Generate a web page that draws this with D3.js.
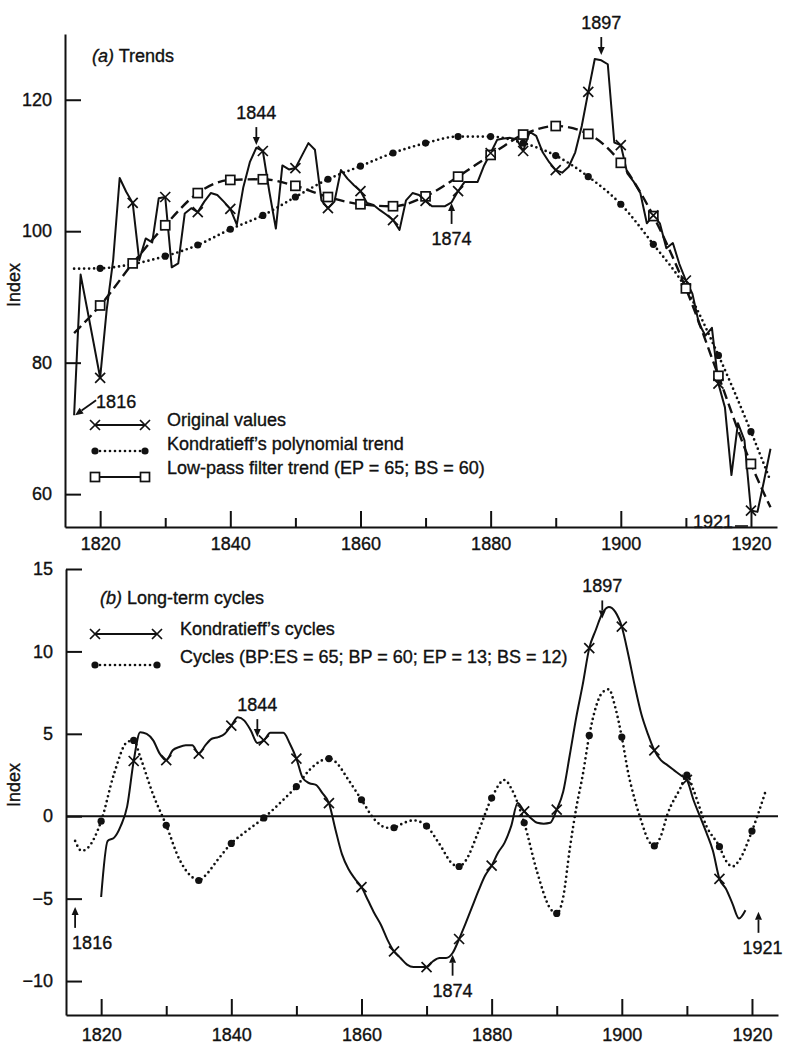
<!DOCTYPE html>
<meta charset="utf-8">
<style>
    body { margin: 0; background: #fff; }
    svg text { font-family: "Liberation Sans", Arial, sans-serif; font-size: 18px; fill: #111; stroke: #111; stroke-width: 0.35; }
    .axis path, .axis line { stroke: #111; stroke-width: 2; }
    .axis text { font-family: "Liberation Sans", Arial, sans-serif; font-size: 18px; fill: #111; stroke: #111; stroke-width: 0.35; }
</style>
<svg width="786" height="1046"></svg>
<script src="https://d3js.org/d3.v7.min.js"></script>
<script>

    // ---- data ----
    var majorYears = [1820, 1840, 1860, 1880, 1900, 1920];
    var minorYears = [1830, 1850, 1870, 1890, 1910];
    var topTicks = [60, 80, 100, 120];
    var botTicks = [-10, -5, 0, 5, 10, 15];

    // (a) original index values, one per year from 1816
    var origStart = 1816;
    var origValues = [
        72.0, 93.4, 88.2, 83.0, 77.7, 88.0, 95.6, 108.1, 106.0, 104.3,
        95.6, 98.9, 98.3, 105.0, 105.2, 94.5, 95.1, 102.7, 103.5, 102.9,
        104.5, 105.8, 105.5, 104.5, 103.4, 101.0, 106.7, 110.5, 112.7, 112.2,
        106.0, 100.4, 110.0, 109.4, 109.6, 111.5, 113.4, 112.4, 104.7, 103.5,
        104.5, 109.3, 108.0, 107.0, 106.1, 104.3, 104.0, 103.2, 102.5, 101.7,
        100.2, 104.7, 105.8, 105.5, 104.6, 103.8, 103.8, 103.8, 104.4, 106.1,
        107.5, 107.5, 107.5, 110.0, 111.9, 113.9, 114.1, 114.2, 114.0, 112.2,
        115.1, 114.5, 112.0, 110.5, 109.3, 108.9, 109.8, 112.0, 116.0, 121.2,
        126.2, 126.0, 125.4, 113.5, 113.1, 108.8, 107.5, 105.8, 101.2, 102.4,
        101.2, 97.4, 98.2, 95.0, 92.5, 90.5, 86.0, 84.1, 85.3, 76.8,
        73.2, 62.9, 70.8, 68.2, 57.5, 57.3, 62.0, 66.9
    ];

    // (a) Kondratieff's polynomial trend
    var polyYears = [1816, 1820, 1825, 1830, 1835, 1840, 1845, 1850, 1855, 1860, 1865, 1870,
        1875, 1880, 1885, 1890, 1895, 1900, 1905, 1910, 1915, 1920, 1923];
    var polyValues = [94.3, 94.35, 95.0, 96.2, 97.9, 100.3, 102.4, 105.2, 107.9, 109.9, 111.9, 113.4,
        114.4, 114.4, 113.4, 111.5, 108.3, 104.1, 98.0, 91.3, 81.1, 69.5, 62.0];

    // (a) low-pass filter trend
    var lowYears = [1816, 1820, 1825, 1830, 1835, 1840, 1845, 1850, 1855, 1860, 1865, 1870,
        1875, 1880, 1885, 1890, 1895, 1900, 1905, 1910, 1915, 1920, 1923];
    var lowValues = [84.5, 88.7, 95.1, 100.9, 105.8, 107.8, 107.9, 106.9, 105.2, 104.1, 103.8, 105.3,
        108.3, 111.6, 114.7, 116.0, 114.8, 110.4, 102.3, 91.3, 78.0, 64.6, 58.0];

    // (b) Kondratieff's cycles, one per year from 1820
    var kcStart = 1820;
    var kcValues = [
        -4.9, -1.5, -1.3, -0.6, 0.6, 3.35, 5.1, 5.0, 4.6, 3.8,
        3.4, 4.0, 4.2, 4.3, 4.3, 3.8, 4.3, 4.7, 4.8, 5.0,
        5.5, 6.0, 5.8, 5.2, 4.45, 4.6, 5.06, 5.06, 5.06, 4.4,
        3.5, 2.3, 2.0, 1.9, 1.4, 0.8, -0.8, -2.3, -3.2, -3.8,
        -4.3, -5.1, -5.9, -6.6, -7.5, -8.2, -8.6, -9.0, -9.15, -9.15,
        -9.15, -8.8, -8.6, -8.6, -8.3, -7.45, -6.5, -5.5, -4.5, -3.6,
        -3.0, -2.2, -1.6, -0.6, 0.8, 0.3, -0.1, -0.4, -0.45, -0.4,
        0.4, 1.5, 3.7, 6.0, 8.0, 10.2, 11.3, 12.3, 12.7, 12.4,
        11.5, 9.8, 7.9, 6.2, 5.0, 4.0, 3.4, 3.1, 2.8, 2.5,
        2.2, 1.0, 0.0, -1.0, -2.1, -3.8, -4.4, -5.3, -6.2, -5.7
    ];

    // (b) band-pass cycles
    var cyYears = [1816, 1817, 1818, 1820, 1822, 1824, 1825, 1826, 1828, 1830, 1832, 1834, 1835, 1836,
        1838, 1840, 1842, 1845, 1848, 1850, 1852, 1854, 1855, 1856, 1858, 1860, 1862, 1864, 1865,
        1866, 1868, 1870, 1872, 1874, 1875, 1876, 1878, 1880, 1882, 1883, 1885, 1887, 1889, 1890,
        1891, 1892, 1893, 1894, 1895, 1896, 1897, 1898, 1899, 1900, 1901, 1902, 1903, 1904, 1905,
        1906, 1907, 1909, 1910, 1911, 1913, 1915, 1916, 1917, 1918, 1920, 1922];
    var cyValues = [-1.5, -2.1, -1.9, -0.3, 2.6, 4.5, 4.6, 3.6, 1.3, -0.55, -2.6, -3.7, -3.9, -3.6,
        -2.6, -1.65, -1.0, -0.1, 1.0, 1.8, 2.8, 3.4, 3.5, 3.3, 2.2, 1.0, -0.2, -0.7, -0.7,
        -0.5, -0.25, -0.6, -1.7, -2.9, -3.05, -2.7, -0.9, 1.1, 2.2, 1.7, -0.4, -3.4, -5.6, -5.9,
        -4.9, -2.0, 0.5, 2.5, 4.9, 6.6, 7.5, 7.7, 6.6, 4.8, 2.6, 1.0, -0.3, -1.4, -1.8,
        -1.2, 0.1, 1.7, 2.5, 1.6, -0.6, -1.85, -2.7, -3.05, -2.7, -0.9, 1.4];

    var topLegend = ["Original values", "Kondratieff’s polynomial trend", "Low-pass filter trend (EP = 65; BS = 60)"];
    var botLegend = ["Kondratieff’s cycles", "Cycles (BP:ES = 65; BP = 60; EP = 13; BS = 12)"];

    var topNotes = [
        {label: "1844", year: 1844, value: 113.1, dir: "down"},
        {label: "1874", year: 1874, value: 104.3, dir: "up"},
        {label: "1897", year: 1897, value: 126.8, dir: "down"}
    ];
    var botNotes = [
        {label: "1844", year: 1844, value: 4.8, dir: "down"},
        {label: "1897", year: 1897, value: 12.0, dir: "down"},
        {label: "1874", year: 1874, value: -8.4, dir: "up"},
        {label: "1816", year: 1816, value: -5.5, dir: "up", start: -3},
        {label: "1921", year: 1921, value: -5.8, dir: "up", start: -16}
    ];

    // ---- helpers ----
    function zip(xs, ys) { return xs.map(function (x, i) { return {year: x, value: ys[i]}; }); }
    function series(start, vals) { return vals.map(function (v, i) { return {year: start + i, value: v}; }); }
    function every5(d) { return d.year % 5 === 0 && d.year >= 1820 && d.year <= 1920; }

    var orig = series(origStart, origValues);
    var poly = zip(polyYears, polyValues);
    var low = zip(lowYears, lowValues);
    var kc = series(kcStart, kcValues);
    var cy = zip(cyYears, cyValues);

    var svg = d3.select("svg");

    var xTop = d3.scaleLinear().domain([1814.6, 1924]).range([65, 777]);
    var yTop = d3.scaleLinear().domain([55, 130]).range([527, 34]);
    var xBot = d3.scaleLinear().domain([1814.6, 1924]).range([66, 778]);
    var yBot = d3.scaleLinear().domain([-12.06, 15]).range([1015, 569]);

    function xMark(g, x, y) {
        g.append("path")
            .attr("d", "M" + (x - 5) + "," + (y - 5) + "L" + (x + 5) + "," + (y + 5) +
                "M" + (x - 5) + "," + (y + 5) + "L" + (x + 5) + "," + (y - 5))
            .attr("stroke", "#111").attr("stroke-width", 1.7).attr("fill", "none");
    }
    function dotMark(g, x, y) {
        g.append("circle").attr("cx", x).attr("cy", y).attr("r", 3.6).attr("fill", "#111");
    }
    function squareMark(g, x, y) {
        g.append("rect").attr("x", x - 4.5).attr("y", y - 4.5).attr("width", 9).attr("height", 9)
            .attr("fill", "#fff").attr("stroke", "#111").attr("stroke-width", 1.7);
    }
    function arrow(g, x1, y1, x2, y2) {
        var a = Math.atan2(y2 - y1, x2 - x1), L = 8, W = 3.5;
        var bx = x2 - L * Math.cos(a), by = y2 - L * Math.sin(a);
        g.append("line").attr("x1", x1).attr("y1", y1).attr("x2", bx).attr("y2", by)
            .attr("stroke", "#111").attr("stroke-width", 1.8);
        g.append("path")
            .attr("d", "M" + x2 + "," + y2 +
                "L" + (bx - W * Math.sin(a)) + "," + (by + W * Math.cos(a)) +
                "L" + (bx + W * Math.sin(a)) + "," + (by - W * Math.cos(a)) + "Z")
            .attr("fill", "#111");
    }

    var solid = {stroke: "#111", width: 2, dash: null, cap: "butt"};
    var dashed = {stroke: "#111", width: 2.4, dash: "10,5", cap: "butt"};
    var dotted = {stroke: "#111", width: 2.7, dash: "0,5", cap: "round"};

    function drawLine(g, data, x, y, st, curve) {
        g.append("path")
            .datum(data)
            .attr("fill", "none")
            .attr("stroke", st.stroke)
            .attr("stroke-width", st.width)
            .attr("stroke-dasharray", st.dash)
            .attr("stroke-linecap", st.cap)
            .attr("stroke-linejoin", "round")
            .attr("d", d3.line().curve(curve)
                .x(function (d) { return x(d.year); })
                .y(function (d) { return y(d.value); }));
    }
    function drawMarks(g, data, x, y, fn) {
        data.filter(every5).forEach(function (d) { fn(g, x(d.year), y(d.value)); });
    }

    function drawAxes(x, y, yTicks, labelPad) {
        var y0 = y.range()[0], x0 = x.range()[0];
        svg.append("g").attr("class", "axis")
            .attr("transform", "translate(0," + y0 + ")")
            .call(d3.axisBottom(x).tickValues(majorYears).tickFormat(d3.format("d"))
                .tickSize(-16).tickSizeOuter(0).tickPadding(labelPad));
        svg.append("g").attr("class", "axis")
            .attr("transform", "translate(0," + y0 + ")")
            .call(d3.axisBottom(x).tickValues(minorYears).tickFormat("")
                .tickSize(-9).tickSizeOuter(0))
            .select(".domain").remove();
        svg.append("g").attr("class", "axis")
            .attr("transform", "translate(" + x0 + ",0)")
            .call(d3.axisLeft(y).tickValues(yTicks)
                .tickSize(-16).tickSizeOuter(0).tickPadding(13));
    }

    function notes(g, list, x, y) {
        list.forEach(function (n) {
            var ax = x(n.year), ay = y(n.value);
            if (n.dir === "down") {
                arrow(g, ax, ay - 18, ax, ay);
                g.append("text").attr("x", ax).attr("y", ay - 26)
                    .attr("text-anchor", "middle").text(n.label);
            } else {
                arrow(g, ax, ay + 21, ax, ay);
                g.append("text").attr("x", n.start != null ? ax + n.start : ax).attr("y", ay + 42)
                    .attr("text-anchor", n.start != null ? "start" : "middle").text(n.label);
            }
        });
    }

    // ---- (a) Trends ----
    drawAxes(xTop, yTop, topTicks, 10);
    var ga = svg.append("g");
    drawLine(ga, poly, xTop, yTop, dotted, d3.curveMonotoneX);
    drawLine(ga, low, xTop, yTop, dashed, d3.curveMonotoneX);
    drawLine(ga, orig, xTop, yTop, solid, d3.curveLinear);
    drawMarks(ga, poly, xTop, yTop, dotMark);
    drawMarks(ga, low, xTop, yTop, squareMark);
    drawMarks(ga, orig, xTop, yTop, xMark);

    svg.append("text").attr("x", 92).attr("y", 62)
        .call(function (t) {
            t.append("tspan").attr("font-style", "italic").text("(a)");
            t.append("tspan").text(" Trends");
        });
    svg.append("text").attr("transform", "translate(20,285) rotate(-90)")
        .attr("text-anchor", "middle").text("Index");

    notes(ga, topNotes, xTop, yTop);
    // 1816 start and 1921 trough
    var sx = xTop(origStart) + 1, sy = yTop(origValues[0]);
    arrow(ga, sx + 21, sy - 15, sx, sy);
    ga.append("text").attr("x", sx + 21).attr("y", sy - 7).text("1816");
    var ex = xTop(1920), ey = yTop(55);
    ga.append("text").attr("x", ex - 18).attr("y", ey + 1).attr("text-anchor", "end").text("1921");
    ga.append("line").attr("x1", ex - 16).attr("x2", ex - 3).attr("y1", ey - 1).attr("y2", ey - 1)
        .attr("stroke", "#111").attr("stroke-width", 1.6);

    var legA = svg.append("g");
    topLegend.forEach(function (label, i) {
        var base = 426 + i * 24, ly = base - 1 + i * 2;
        var lx = function (v) { return 95 + v * 50; };
        var seg = [{year: 0, value: 0}, {year: 1, value: 0}];
        if (i === 0) {
            drawLine(legA, seg, lx, function () { return ly; }, solid, d3.curveLinear);
            xMark(legA, 95, ly); xMark(legA, 145, ly);
        } else if (i === 1) {
            drawLine(legA, seg, lx, function () { return ly; }, dotted, d3.curveLinear);
            dotMark(legA, 95, ly); dotMark(legA, 145, ly);
        } else {
            drawLine(legA, seg, lx, function () { return ly; }, solid, d3.curveLinear);
            squareMark(legA, 95, ly); squareMark(legA, 145, ly);
        }
        legA.append("text").attr("x", 167).attr("y", base).text(label);
    });

    // ---- (b) Long-term cycles ----
    drawAxes(xBot, yBot, botTicks, 13);
    svg.append("line")
        .attr("x1", xBot.range()[0]).attr("x2", xBot.range()[1])
        .attr("y1", yBot(0)).attr("y2", yBot(0))
        .attr("stroke", "#111").attr("stroke-width", 2);

    var gb = svg.append("g");
    drawLine(gb, cy, xBot, yBot, dotted, d3.curveMonotoneX);
    drawLine(gb, kc, xBot, yBot, solid, d3.curveMonotoneX);
    drawMarks(gb, cy, xBot, yBot, dotMark);
    drawMarks(gb, kc.filter(function (d) { return d.year >= 1825; }), xBot, yBot, xMark);

    svg.append("text").attr("x", 100).attr("y", 604)
        .call(function (t) {
            t.append("tspan").attr("font-style", "italic").text("(b)");
            t.append("tspan").text(" Long-term cycles");
        });
    svg.append("text").attr("transform", "translate(20,785) rotate(-90)")
        .attr("text-anchor", "middle").text("Index");

    notes(gb, botNotes, xBot, yBot);

    var legB = svg.append("g");
    botLegend.forEach(function (label, i) {
        var base = 635 + i * 28, ly = base - 1 + i * 3;
        var lx = function (v) { return 95 + v * 62; };
        var seg = [{year: 0, value: 0}, {year: 1, value: 0}];
        if (i === 0) {
            drawLine(legB, seg, lx, function () { return ly; }, solid, d3.curveLinear);
            xMark(legB, 95, ly); xMark(legB, 157, ly);
        } else {
            drawLine(legB, seg, lx, function () { return ly; }, dotted, d3.curveLinear);
            dotMark(legB, 95, ly); dotMark(legB, 157, ly);
        }
        legB.append("text").attr("x", 180).attr("y", base).text(label);
    });

</script>
